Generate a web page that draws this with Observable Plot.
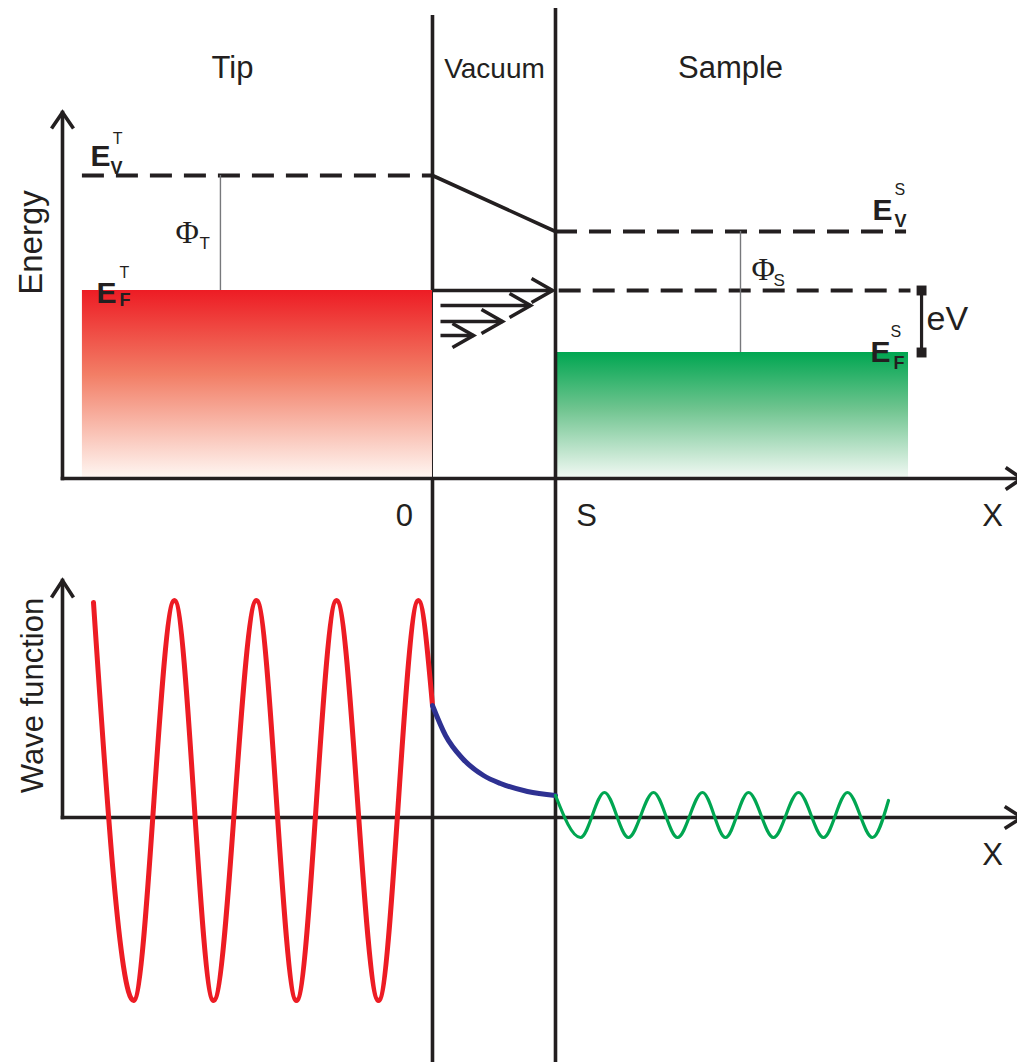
<!DOCTYPE html>
<html><head><meta charset="utf-8">
<script src="https://cdn.jsdelivr.net/npm/d3@7"></script>
<script src="https://cdn.jsdelivr.net/npm/@observablehq/plot@0.6"></script>
<style>
html,body{margin:0;padding:0;background:#fff;overflow:hidden}
#chart{width:1017px;height:1062px}
#chart svg{display:block}
</style>
</head><body><div id="chart"></div>
<script>
// ---------------- data ----------------
// distance axis: tip surface at 0, sample surface at S = 10
const regionNames   = ["Tip", "Vacuum", "Sample"];
const regionCenterX = [-16.26, 5.04, 24.23];
const surfaceX      = [0, 10];
const surfaceLabels = ["0", "S"];
const surfaceLabelX = [-2.28, 12.52];
const electrodeNames = ["tip", "sample"];
const electrodeX1   = [-28.46, 10];
const electrodeX2   = [0, 38.7];
const axisStartX = -30.08, axisEndX = 47.9, axisLabelX = 45.53;

// energy levels: vacuum tip, Fermi tip, vacuum sample, Fermi sample
const levelValues = [6.06, 3.76, 4.94, 2.52];
const [EvT, EfT, EvS, EfS] = levelValues;
const energyAxisTop = 7.32;
const surfaceTop = [9.26, 9.40];

// level labels  E_sub^sup
const levelMain = ["E", "E", "E", "E"];
const levelSub  = ["V", "F", "V", "F"];
const levelSup  = ["T", "T", "S", "S"];
const levelMainX = [-27.80, -27.31, 35.77, 35.61];
const levelMainY = [6.26, 3.52, 5.18, 2.34];
const levelSubX  = [-26.18, -25.45, 37.56, 37.48];
const levelSubY  = [6.10, 3.46, 5.04, 2.20];
const levelSupX  = [-26.0, -25.45, 37.56, 37.24];
const levelSupY  = [6.70, 4.02, 5.68, 2.84];

// work functions
const workSub = ["T", "S"];
const workX   = [-17.24, 25.04];
const workPhiX = [-20.89, 25.93], workPhiY = [4.72, 3.98];
const workSubX = [-18.94, 27.72], workSubY = [4.60, 3.86];

// bias eV
const biasX = 39.76, biasLabelX = 40.16, biasLabelY = 2.98;

// tunnelling arrows
const arrowStartX = [0, 0.65, 0.65, 0.65];
const arrowEndX   = [9.76, 7.97, 5.69, 3.33];
const arrowY      = [3.76, 3.46, 3.14, 2.86];

// wave function (amplitude units)
const tipWaveX = [-27.56, -24.31, -20.98, -17.80, -14.31, -11.06, -7.80, -4.39, -1.14, 0];
const tipWaveY = [2.15, -1.83, 2.17, -1.83, 2.17, -1.83, 2.17, -1.83, 2.17, 1.12];
const vacWaveX = [0, 1.06, 2.44, 4.15, 5.53, 7.72, 10];
const vacWaveY = [1.12, 0.82, 0.59, 0.42, 0.34, 0.26, 0.22];
const sampleWaveX = [10, 12.03, 13.98, 15.93, 17.97, 19.92, 21.95, 23.82, 25.69, 27.72, 29.76, 31.79, 33.74, 35.77, 37.07];
const sampleWaveY = [0.22, -0.20, 0.25, -0.20, 0.25, -0.20, 0.25, -0.20, 0.25, -0.20, 0.25, -0.20, 0.25, -0.20, 0.17];
const waveAxisTop = 2.37;

// ---------------- layout ----------------
const W = 1017, topH = 545, botH = 517;
const xDomain = [-35.12, 47.56];
const yTopDomain = [-1.34, 9.56];
const ink = "#231f20";
const sans = "Liberation Sans, Arial, Helvetica, sans-serif";
const serif = "Liberation Serif, Times New Roman, serif";
const lw = 3.6;

const zip = (xs, ys) => xs.map((x, i) => ({x, y: ys[i]}));

// ---------------- top: energy diagram ----------------
const electrodes = electrodeNames.map((n, i) => ({n, x1: electrodeX1[i], x2: electrodeX2[i], y1: 0, y2: i === 0 ? EfT : EfS}));
const dashed = [
  {x1: electrodeX1[0], x2: surfaceX[0], y: EvT},
  {x1: surfaceX[1], x2: 38.54, y: EvS},
  {x1: surfaceX[1] + 0.3, x2: 38.9, y: EfT}
];
const edgeSegments = [
  {x: surfaceX[0], y1: EfT, y2: surfaceTop[0], w: lw},
  {x: surfaceX[0], y1: 0, y2: EfT, w: 1},
  {x: surfaceX[0], y1: yTopDomain[0], y2: 0, w: lw},
  {x: surfaceX[1], y1: yTopDomain[0], y2: surfaceTop[1], w: lw}
];
const arrows = arrowEndX.map((x2, i) => ({x1: arrowStartX[i], x2, y: arrowY[i]}));
const axesTop = [
  {x1: axisStartX, y1: 0, x2: axisStartX, y2: energyAxisTop},
  {x1: axisStartX, y1: 0, x2: axisEndX, y2: 0}
];
const levelLabels = levelMain.map((m, i) => ({m, sub: levelSub[i], sup: levelSup[i]}));

const topSvg = Plot.plot({
  width: W, height: topH, margin: 0,
  x: {domain: xDomain, axis: null},
  y: {domain: yTopDomain, axis: null},
  style: {fontFamily: sans, background: "white"},
  marks: [
    Plot.rect(electrodes, {x1: "x1", x2: "x2", y1: "y1", y2: "y2", fill: d => d.n === "tip" ? "url(#tipGrad)" : "url(#sampleGrad)"}),
    Plot.ruleY(dashed, {x1: "x1", x2: "x2", y: "y", stroke: ink, strokeWidth: 4, strokeDasharray: "22,12"}),
    Plot.ruleX(workX.map((x, i) => ({x, y1: i ? EfS : EfT, y2: i ? EvS : EvT})), {x: "x", y1: "y1", y2: "y2", stroke: "#77787b", strokeWidth: 1.4}),
    Plot.line([{x: surfaceX[0], y: EvT}, {x: surfaceX[1], y: EvS}], {x: "x", y: "y", stroke: ink, strokeWidth: lw}),
    Plot.ruleX(edgeSegments, {x: "x", y1: "y1", y2: "y2", stroke: ink, strokeWidth: d => d.w}),
    Plot.ruleX([{x: biasX, y1: EfS, y2: EfT}], {x: "x", y1: "y1", y2: "y2", stroke: ink, strokeWidth: 3.2}),
    Plot.dot([EfS, EfT], {x: () => biasX, y: d => d, symbol: "square", r: 5.6, fill: ink, stroke: "none"}),
    Plot.link(axesTop, {x1: "x1", y1: "y1", x2: "x2", y2: "y2", stroke: ink, strokeWidth: lw, strokeLinecap: "square"}),
    Plot.link(arrows, {x1: "x1", y1: "y", x2: "x2", y2: "y", stroke: ink, strokeWidth: lw}),
    // titles
    Plot.text(regionNames.map((t, i) => ({t, x: regionCenterX[i]})), {x: "x", y: () => 8.02, text: "t", fontSize: d => d.t === "Vacuum" ? 28 : 31, fill: ink, textAnchor: "middle", lineAnchor: "bottom"}),
    Plot.text(surfaceLabels.map((t, i) => ({t, x: surfaceLabelX[i]})).concat([{t: "X", x: axisLabelX}]), {x: "x", y: () => -0.94, text: "t", fontSize: 31, fill: ink, textAnchor: "middle", lineAnchor: "bottom"}),
    Plot.text(["Energy"], {x: () => -31.71, y: () => 4.72, text: d => d, rotate: -90, fontSize: 33, fill: ink, textAnchor: "middle", lineAnchor: "bottom"}),
    // level labels
    Plot.text(levelLabels, {x: (d, i) => levelMainX[i], y: (d, i) => levelMainY[i], text: "m", fontSize: 30, fontWeight: "bold", fill: ink, textAnchor: "start", lineAnchor: "bottom"}),
    Plot.text(levelLabels, {x: (d, i) => levelSubX[i], y: (d, i) => levelSubY[i], text: "sub", fontSize: 18, fontWeight: "bold", fill: ink, textAnchor: "start", lineAnchor: "bottom"}),
    Plot.text(levelLabels, {x: (d, i) => levelSupX[i], y: (d, i) => levelSupY[i], text: "sup", fontSize: 16, fill: ink, textAnchor: "start", lineAnchor: "bottom"}),
    Plot.text(workSub, {x: (d, i) => workPhiX[i], y: (d, i) => workPhiY[i], text: () => "Φ", fontSize: 32, fontFamily: serif, fill: ink, textAnchor: "start", lineAnchor: "bottom"}),
    Plot.text(workSub, {x: (d, i) => workSubX[i], y: (d, i) => workSubY[i], text: d => d, fontSize: 17, fill: ink, textAnchor: "start", lineAnchor: "bottom"}),
    Plot.text(["eV"], {x: () => biasLabelX, y: () => biasLabelY, text: d => d, fontSize: 34, fill: ink, textAnchor: "start", lineAnchor: "bottom"})
  ]
});

// ---------------- bottom: wave function ----------------
const axesBot = [
  {x1: axisStartX, y1: 0, x2: axisStartX, y2: waveAxisTop},
  {x1: axisStartX, y1: 0, x2: axisEndX, y2: 0}
];
const botSvg = Plot.plot({
  width: W, height: botH, margin: 0,
  x: {domain: xDomain, axis: null},
  y: {domain: [-2.45, 2.72], axis: null},
  style: {fontFamily: sans, background: "white"},
  marks: [
    Plot.link(axesBot, {x1: "x1", y1: "y1", x2: "x2", y2: "y2", stroke: ink, strokeWidth: lw, strokeLinecap: "square"}),
    Plot.ruleX(surfaceX, {stroke: ink, strokeWidth: lw}),
    Plot.line(zip(tipWaveX, tipWaveY), {x: "x", y: "y", curve: "monotone-x", stroke: "#ed1c24", strokeWidth: 5}),
    Plot.line(zip(vacWaveX, vacWaveY), {x: "x", y: "y", curve: "monotone-x", stroke: "#2e3192", strokeWidth: 5}),
    Plot.line(zip(sampleWaveX, sampleWaveY), {x: "x", y: "y", curve: "monotone-x", stroke: "#00a651", strokeWidth: 3.2}),
    Plot.text(["Wave function"], {x: () => -31.63, y: () => 1.22, text: d => d, rotate: -90, fontSize: 31, fill: ink, textAnchor: "middle", lineAnchor: "bottom"}),
    Plot.text(["X"], {x: () => axisLabelX, y: () => -0.47, text: d => d, fontSize: 31, fill: ink, textAnchor: "middle", lineAnchor: "bottom"})
  ]
});

// ---------------- gradients and arrowheads ----------------
const marker = (id, back, half) =>
  `<marker id="${id}" viewBox="${-back - 6} ${-half - 6} ${back + 14} ${2 * half + 12}" refX="0" refY="0" markerWidth="${back + 14}" markerHeight="${2 * half + 12}" markerUnits="userSpaceOnUse" orient="auto" overflow="visible">` +
  `<path d="M${-back},${-half}L0,0L${-back},${half}" fill="none" stroke="${ink}" stroke-width="${lw}" stroke-linejoin="miter"/></marker>`;

d3.select(topSvg).insert("defs", ":first-child").html(
  `<linearGradient id="tipGrad" x1="0" y1="0" x2="0" y2="1">
     <stop offset="0" stop-color="#ed1c24"/><stop offset="0.45" stop-color="#f27e66"/><stop offset="1" stop-color="#fff7f3"/>
   </linearGradient>
   <linearGradient id="sampleGrad" x1="0" y1="0" x2="0" y2="1">
     <stop offset="0" stop-color="#00a651"/><stop offset="0.45" stop-color="#6fc48f"/><stop offset="1" stop-color="#f2f9f4"/>
   </linearGradient>` + marker("axHeadT", 16, 11) + marker("tunHead", 21, 12));
d3.select(botSvg).insert("defs", ":first-child").html(marker("axHeadB", 17, 11));

const topLinks = topSvg.querySelectorAll('g[aria-label="link"]');
d3.select(topLinks[0]).selectAll("path,line").attr("marker-end", "url(#axHeadT)");
d3.select(topLinks[1]).selectAll("path,line").attr("marker-end", "url(#tunHead)");
d3.select(botSvg.querySelector('g[aria-label="link"]')).selectAll("path,line").attr("marker-end", "url(#axHeadB)");

document.getElementById("chart").append(topSvg, botSvg);
</script>
</body></html>
